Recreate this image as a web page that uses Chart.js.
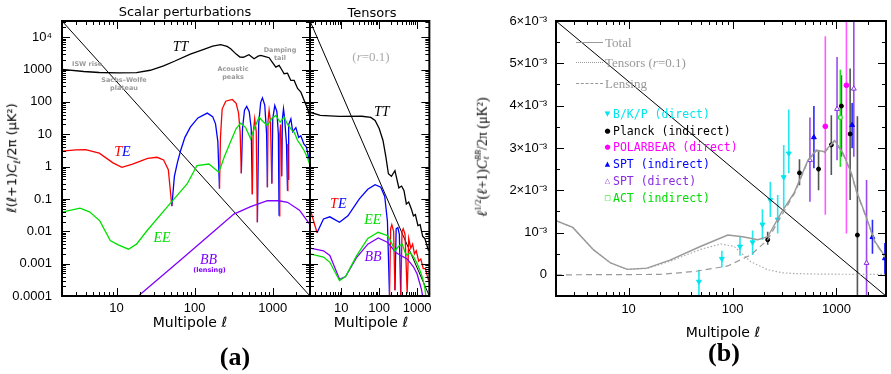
<!DOCTYPE html>
<html>
<head>
<meta charset="utf-8">
<script src="https://cdn.jsdelivr.net/npm/chart.js@4.4.1/dist/chart.umd.min.js"></script>
<style>
  body { margin: 0; background: #fff; width: 891px; height: 374px; position: relative; overflow: hidden; font-family: "DejaVu Sans", sans-serif; }
  canvas { position: absolute; top: 0; }
  .c { position: absolute; transform: translate(-50%, -50%); white-space: nowrap; line-height: 1; z-index: 2; }
  .l { position: absolute; transform: translateY(-50%); white-space: nowrap; line-height: 1; z-index: 2; }
  .rot { transform: translate(-50%, -50%) rotate(-90deg); }
  .note { font: bold 6.5px "DejaVu Sans", sans-serif; color: #9a9a9a; text-align: center; }
  .lab { font: italic 14px "Liberation Serif", serif; }
  .xt { font: 14px "DejaVu Sans", sans-serif; }
  .leg { font: 11.5px "DejaVu Sans Mono", monospace; }
  .gl { font: 13px "Liberation Serif", serif; color: #999; }
  .sw { position: absolute; width: 27px; height: 0; z-index: 2; }
  .mk { position: absolute; transform: translate(-50%, -50%); font-size: 7px; line-height: 1; z-index: 2; }
</style>
</head>
<body>
<canvas id="scalarChart" width="312" height="340" style="left:0"></canvas>
<canvas id="tensorChart" width="137" height="340" style="left:300px"></canvas>
<canvas id="bbChart" width="401" height="340" style="left:490px"></canvas>

<!-- titles and axis labels -->
<div class="c" style="left:185px;top:11px;font-size:13px">Scalar perturbations</div>
<div class="c" style="left:372px;top:11.5px;font-size:13px">Tensors</div>
<div class="c rot" style="left:13px;top:158px;font:13px 'DejaVu Sans'"><i>ℓ</i>(<i>ℓ</i>+1)<i>C</i><sub style="font-size:9px"><i>ℓ</i></sub>/2π (μK²)</div>
<div class="c rot" style="left:482px;top:157px;font:14px 'Liberation Serif'"><i>ℓ</i><sup style="font-size:9px">1/2</sup>(<i>ℓ</i>+1)<i>C</i><span style="display:inline-block;vertical-align:middle;font-size:8px;line-height:1"><i>BB</i><br><i>ℓ</i></span>/2π (μK²)</div>
<div class="c xt" style="left:190px;top:322px">Multipole <i>ℓ</i></div>
<div class="c xt" style="left:371px;top:322px">Multipole <i>ℓ</i></div>
<div class="c xt" style="left:723px;top:332px">Multipole <i>ℓ</i></div>
<div class="c" style="left:235px;top:357px;font:bold 26px 'Liberation Serif'">(a)</div>
<div class="c" style="left:724px;top:353px;font:bold 26px 'Liberation Serif'">(b)</div>

<!-- annotations, scalar panel -->
<div class="c lab" style="left:180.5px;top:47px">TT</div>
<div class="l note" style="left:72px;top:64px">ISW rise</div>
<div class="c note" style="left:124px;top:84px">Sachs–Wolfe<br>plateau</div>
<div class="c note" style="left:233px;top:73px">Acoustic<br>peaks</div>
<div class="c note" style="left:280px;top:54px">Damping<br>tail</div>
<div class="c lab" style="left:122.5px;top:152px"><span style="color:#f00">T</span><span style="color:#00f">E</span></div>
<div class="c lab" style="left:162px;top:238px;color:#00dd00">EE</div>
<div class="c lab" style="left:208.5px;top:260px;color:#8000ff">BB</div>
<div class="c note" style="left:209.5px;top:270px;color:#8000ff">(lensing)</div>

<!-- annotations, tensor panel -->
<div class="c" style="left:371px;top:57px;font:13px 'Liberation Serif';color:#aaa">(<i>r</i>=0.1)</div>
<div class="c lab" style="left:381.7px;top:112px">TT</div>
<div class="c lab" style="left:338.3px;top:204px"><span style="color:#f00">T</span><span style="color:#00f">E</span></div>
<div class="c lab" style="left:372.8px;top:220px;color:#00dd00">EE</div>
<div class="c lab" style="left:373px;top:257px;color:#8000ff">BB</div>

<!-- legend, panel (b) -->
<div class="sw" style="left:576px;top:42px;border-top:1.5px solid #999"></div>
<div class="sw" style="left:576px;top:62px;border-top:1.5px dotted #999"></div>
<div class="sw" style="left:576px;top:83px;border-top:1.5px dashed #999"></div>
<div class="l gl" style="left:605px;top:42.5px">Total</div>
<div class="l gl" style="left:605px;top:63px">Tensors (<i>r</i>=0.1)</div>
<div class="l gl" style="left:605px;top:83.5px">Lensing</div>
<div class="mk" style="left:607.5px;top:114px;color:#00e5ee">▼</div>
<div class="mk" style="left:607.5px;top:130.7px;color:#000">●</div>
<div class="mk" style="left:607.5px;top:147.3px;color:#ff00ff">●</div>
<div class="mk" style="left:607.5px;top:164px;color:#0000ff">▲</div>
<div class="mk" style="left:607.5px;top:181px;color:#8a2be2">△</div>
<div class="mk" style="left:607.5px;top:198px;color:#00dd00">□</div>
<div class="l leg" style="left:613px;top:114px;color:#00e5ee">B/K/P (direct)</div>
<div class="l leg" style="left:613px;top:130.7px;color:#000">Planck (indirect)</div>
<div class="l leg" style="left:613px;top:147.3px;color:#ff00ff">POLARBEAR (direct)</div>
<div class="l leg" style="left:613px;top:164.3px;color:#0000ff">SPT (indirect)</div>
<div class="l leg" style="left:613px;top:181.3px;color:#8a2be2">SPT (direct)</div>
<div class="l leg" style="left:613px;top:198.3px;color:#00dd00">ACT (indirect)</div>

<script>
// ---- panel (a), scalar perturbations: [ℓ, ℓ(ℓ+1)Cℓ/2π in μK²] ----
const scalarTT = [[2,1007],[3.8,870],[6,810],[10.6,790],[18,800],[27,950],[40,1300],[55,1800],[88,3000],[131,4200],[170,5300],[215,5860],[260,5200],[289,4400],[340,3000],[380,2420],[420,2400],[496,2870],[576,2160],[650,2600],[702,2730],[800,2500],[898,2320],[1000,1600],[1095,1186],[1206,1340],[1300,1000],[1398,741],[1545,774],[1620,600],[1705,460],[1880,460],[2080,260],[2292,200],[2529,110],[2793,61],[3000,34]];
// TE > 0 (red) and TE < 0 (blue, |TE|); null = sign change elsewhere
const scalarTEpos = [[2,3.0],[3,3.3],[4,3.35],[6,2.6],[9,1.3],[11.7,0.95],[16,1.2],[25,1.8],[33,1.94],[40,1.6],[46,0.8],[51,0.06], null,
  [208,0.21],[214,8],[225,60],[250,105],[303,119],[340,90],[365,45],[382,12],[396,0.62], null,
  [548,0.14],[560,10],[587,30],[615,12],[636,0.019], null,
  [855,0.23],[870,25],[898,55],[935,25],[973,0.3], null,
  [1206,0.03],[1230,10],[1260,20],[1280,8],[1300,0.5], null,
  [1545,0.18],[1560,5],[1575,0.4]];
const scalarTEneg = [[51,0.06],[55,0.5],[60,1.3],[66,3.1],[75,8],[88,16.5],[110,32],[145,45],[170,35],[185,21],[198,6],[208,0.21], null,
  [396,0.62],[410,15],[435,55],[464,72],[500,50],[530,15],[548,0.14], null,
  [636,0.019],[660,20],[700,95],[738,133],[790,80],[835,10],[855,0.23], null,
  [973,0.3],[1000,30],[1062,77],[1130,50],[1180,10],[1206,0.03], null,
  [1300,0.5],[1330,30],[1374,61],[1420,30],[1500,5],[1545,0.18], null,
  [1575,0.4],[1600,20],[1706,30],[1800,12],[1977,16],[2150,8],[2290,9],[2500,5],[2700,4],[3000,1.2]];
const scalarEE = [[2,0.039],[3.4,0.052],[4.5,0.04],[6.1,0.021],[8.3,0.0052],[10.5,0.0038],[14.2,0.0028],[18,0.004],[24.5,0.0104],[44,0.055],[80,0.29],[107,1.07],[152,1.2],[204,0.67],[240,2],[289,6],[340,15],[388,22],[450,16],[521,7.2],[580,15],[667,33.6],[760,24],[855,18.6],[960,30],[1095,38],[1243,23.5],[1398,33.6],[1550,20],[1706,14.7],[1900,11],[2080,6.4],[2300,4.5],[2530,3.1],[2800,1.8],[3000,1.07]];
const scalarBB = [[19,1e-4],[66,0.0013],[150,0.0072],[318,0.034],[521,0.058],[855,0.089],[1200,0.088],[1545,0.079],[2200,0.045],[3000,0.016]];

// ---- panel (a), tensors (r = 0.1) ----
const tensorTT = [[1.5,48],[2.8,38],[9,35.5],[35,36],[60,33],[78,26.5],[100,15],[126,6.4],[150,2],[175,0.6],[210,0.5],[260,0.75],[330,0.22],[390,0.25],[451,0.18],[520,0.07],[600,0.08],[700,0.05],[800,0.03],[900,0.033],[1050,0.015],[1200,0.016],[1400,0.007],[1600,0.006],[2000,0.0025]];
const tensorTEpos = [[1.5,0.05],[2.3,0.009], null,
  [187,1e-4],[200,0.012],[215,0.016],[240,0.01],[260,1.5e-4], null,
  [370,1e-4],[400,0.01],[430,0.012],[480,0.008],[547,1.2e-4],[600,0.006],[680,0.003],[760,0.004],[850,0.002],[950,0.0025],[1100,0.0012],[1250,0.0014],[1450,0.0007],[1650,0.0007],[2000,0.0003]];
const tensorTEneg = [[2.3,0.009],[3.4,0.024],[5,0.028],[9,0.019],[15,0.03],[30,0.1],[50,0.2],[78,0.277],[110,0.23],[140,0.12],[165,0.02],[187,1e-4], null,
  [260,1.5e-4],[280,0.012],[310,0.013],[340,0.008],[370,1e-4]];
const tensorEE = [[1.5,0.002],[3.4,0.0016],[5,0.0011],[9,3e-4],[13,4e-4],[25,0.0017],[50,0.006],[94,0.0093],[169,0.0073],[220,0.004],[260,0.0025],[330,0.0035],[408,0.004],[480,0.0022],[547,0.0018],[650,0.0022],[811,0.0016],[1000,0.001],[1195,6e-4],[1400,3.5e-4],[1600,1.8e-4],[1800,5e-5]];
const tensorBB = [[1.5,0.003],[3.4,0.0025],[5,0.0018],[9,3.3e-4],[13,4e-4],[25,0.0015],[50,0.004],[94,0.0062],[169,0.0045],[275,0.0022],[400,0.0017],[547,0.0014],[800,8e-4],[1000,4.8e-4],[1300,1.6e-4],[1500,6e-5]];

// ---- panel (b): ℓ^1/2(ℓ+1)C_ℓ^BB/2π in units of 1e-3 μK² ----
const bbTotal = [[2,1.28],[2.9,1.12],[4.6,0.59],[6.7,0.28],[9.7,0.13],[15,0.16],[25,0.35],[49,0.67],[90,0.94],[125,0.9],[175,0.83],[218,0.9],[293,1.46],[394,1.95],[532,2.71],[640,2.95],[769,2.91],[961,3.18],[1160,2.87],[1394,2.4],[1550,2.0],[1875,1.46],[2345,0.79],[3000,0.4]];
const bbTensor = [[2,1.28],[2.9,1.12],[4.6,0.59],[6.7,0.28],[9.7,0.13],[15,0.15],[25,0.32],[49,0.6],[77,0.73],[104,0.67],[150,0.31],[218,0.12],[300,0.05],[400,0.03],[600,0.02],[1000,0.015],[3000,0.01]];
const bbLensing = [[2,0],[20,0.01],[43,0.08],[90,0.21],[150,0.47],[218,0.83],[293,1.38],[394,1.92],[532,2.69],[640,2.93],[769,2.89],[961,3.16],[1160,2.85],[1394,2.38],[1550,1.98],[1875,1.44],[2345,0.77],[3000,0.39]];
// band powers: [ℓ, value, low, high]
const bkp = [[47.5,-0.16,-0.6,0.12],[79,0.38,0.18,0.57],[118,0.67,0.45,0.9],[156,0.77,0.47,1.05],[194,1.19,0.83,1.55],[231,1.77,1.37,2.2],[272,1.31,0.98,1.89],[311,2.31,1.58,3.07],[348,2.87,2.4,3.91]];
const planck = [[218,0.83,0.71,1.02],[441,2.41,2.12,2.73],[673,2.5,2.0,2.95],[893,3.07,2.36,3.77],[1117,3.99,2.79,4.72],[1355,3.33,1.77,4.88],[1592,0.94,-0.6,3.75]];
const polarbear = [[782,3.51,1.42,5.64],[1248,4.48,0.98,6.5]];
const sptIndirect = [[607,3.25,2.52,3.99],[1416,3.54,2.99,4.06],[2222,0.89,0.5,1.3],[2925,0.39,0,0.75]];
const sptDirect = [[556,2.71,1.73,3.72],[1014,3.92,2.71,5.15],[1470,4.4,2.79,6.5],[1950,0.28,-0.6,2.24]];
const act = [[1091,3.72,2.55,4.85]];

// axis ranges and the corner-to-corner guide lines
const scalarX = [2, 3000], tensorX = [1.5, 2100], powerY = [1e-4, 31623];
const bbX = [2, 3000], bbY = [-0.5, 6];
const xLabels = [10, 100, 1000];
const powerLabels = {4: '10⁴', 3: '1000', 2: '100', 1: '10', 0: '1', '-1': '0.1', '-2': '0.01', '-3': '0.001', '-4': '0.0001'};

Chart.defaults.font.family = '"Liberation Sans", sans-serif';
Chart.defaults.font.size = 13;
Chart.defaults.color = '#000';

function toPoints(arr) {
    return arr.map((p, i) => p ? { x: p[0], y: p[1] } : { x: arr[i - 1][0], y: null });
}

function logMajor(min, max) {
    const out = [];
    for (let e = Math.floor(Math.log10(min)); e <= Math.ceil(Math.log10(max)); e++) {
        const v = Math.pow(10, e);
        if (v >= min && v <= max) out.push(v);
    }
    return out;
}

function logMinor(min, max) {
    const out = [];
    for (let e = Math.floor(Math.log10(min)); e <= Math.ceil(Math.log10(max)); e++) {
        for (let k = 2; k <= 9; k++) {
            const v = k * Math.pow(10, e);
            if (v > min && v < max) out.push(v);
        }
    }
    return out;
}

function line(data, color, extra) {
    return Object.assign({
        type: 'line', data: toPoints(data), borderColor: color, borderWidth: 1.3,
        pointRadius: 0, fill: false, tension: 0, spanGaps: false
    }, extra || {});
}

// inward ticks on all four sides plus the box
const frameTicks = {
    id: 'frameTicks',
    afterDatasetsDraw(chart, args, o) {
        const { ctx, chartArea: a, scales: { x, y } } = chart;
        ctx.save();
        ctx.strokeStyle = '#000';
        ctx.lineWidth = 1;
        ctx.beginPath();
        const vt = (v, len) => {
            const p = Math.round(x.getPixelForValue(v)) + 0.5;
            ctx.moveTo(p, a.bottom); ctx.lineTo(p, a.bottom - len);
            ctx.moveTo(p, a.top); ctx.lineTo(p, a.top + len);
        };
        const ht = (v, len) => {
            const p = Math.round(y.getPixelForValue(v)) + 0.5;
            ctx.moveTo(a.left, p); ctx.lineTo(a.left + len, p);
            ctx.moveTo(a.right, p); ctx.lineTo(a.right - len, p);
        };
        o.xMajor.forEach(v => vt(v, 8));
        o.xMinor.forEach(v => vt(v, 4));
        o.yMajor.forEach(v => ht(v, 8));
        o.yMinor.forEach(v => ht(v, 4));
        ctx.stroke();
        ctx.lineWidth = 2;
        ctx.strokeRect(a.left, a.top, a.right - a.left, a.bottom - a.top);
        ctx.restore();
    }
};

// vertical error bars for the band powers, drawn under the markers
const errorBars = {
    id: 'errorBars',
    beforeDatasetsDraw(chart, args, o) {
        const { ctx, chartArea: a, scales: { x, y } } = chart;
        ctx.save();
        ctx.beginPath();
        ctx.rect(a.left, a.top, a.right - a.left, a.bottom - a.top);
        ctx.clip();
        ctx.lineWidth = 1.6;
        o.sets.forEach(s => {
            ctx.strokeStyle = s.color;
            ctx.beginPath();
            s.data.forEach(p => {
                const px = x.getPixelForValue(p[0]);
                ctx.moveTo(px, y.getPixelForValue(p[2]));
                ctx.lineTo(px, y.getPixelForValue(p[3]));
            });
            ctx.stroke();
        });
        ctx.restore();
    }
};

function logXAxis(range) {
    return {
        type: 'logarithmic', min: range[0], max: range[1],
        grid: { display: false, drawTicks: false }, border: { display: false },
        ticks: { autoSkip: false, maxRotation: 0, padding: 5, callback: v => String(v) },
        afterBuildTicks: s => { s.ticks = xLabels.map(v => ({ value: v })); },
        afterFit: s => { s.height = 44; }
    };
}

function powerYAxis(show) {
    return {
        type: 'logarithmic', min: powerY[0], max: powerY[1], display: show,
        grid: { display: false, drawTicks: false }, border: { display: false },
        ticks: { autoSkip: false, padding: 10, callback: v => powerLabels[Math.round(Math.log10(v))] },
        afterBuildTicks: s => { s.ticks = logMajor(powerY[0], powerY[1]).map(v => ({ value: v })); },
        afterFit: s => { s.width = show ? 62 : 0; }
    };
}

const scalarChart = new Chart(document.getElementById('scalarChart'), {
    type: 'line',
    data: {
        datasets: [
            line(scalarTT, '#000'),
            line(scalarEE, '#00e000'),
            line(scalarBB, '#8000ff'),
            line(scalarTEpos, '#ff0000'),
            line(scalarTEneg, '#0000ff'),
            line([[scalarX[0], powerY[1]], [scalarX[1], powerY[0]]], '#000', { borderWidth: 1 })
        ]
    },
    options: {
        responsive: false, animation: false,
        layout: { padding: { top: 21, right: 2, left: 0, bottom: 0 } },
        plugins: {
            legend: { display: false }, tooltip: { enabled: false },
            frameTicks: {
                xMajor: logMajor(scalarX[0], scalarX[1]), xMinor: logMinor(scalarX[0], scalarX[1]),
                yMajor: logMajor(powerY[0], powerY[1]), yMinor: logMinor(powerY[0], powerY[1])
            }
        },
        scales: { x: logXAxis(scalarX), y: powerYAxis(true) }
    },
    plugins: [frameTicks]
});

const tensorChart = new Chart(document.getElementById('tensorChart'), {
    type: 'line',
    data: {
        datasets: [
            line(tensorTT, '#000'),
            line(tensorEE, '#00e000'),
            line(tensorBB, '#8000ff'),
            line(tensorTEpos, '#ff0000'),
            line(tensorTEneg, '#0000ff'),
            line([[tensorX[0], powerY[1]], [tensorX[1], powerY[0]]], '#000', { borderWidth: 1 })
        ]
    },
    options: {
        responsive: false, animation: false,
        layout: { padding: { top: 21, right: 4, left: 10, bottom: 0 } },
        plugins: {
            legend: { display: false }, tooltip: { enabled: false },
            frameTicks: {
                xMajor: logMajor(tensorX[0], tensorX[1]), xMinor: logMinor(tensorX[0], tensorX[1]),
                yMajor: logMajor(powerY[0], powerY[1]), yMinor: logMinor(powerY[0], powerY[1])
            }
        },
        scales: { x: logXAxis(tensorX), y: powerYAxis(false) }
    },
    plugins: [frameTicks]
});

function markers(data, style, color, fill, extra) {
    return Object.assign({
        type: 'scatter', data: data.map(p => ({ x: p[0], y: p[1] })),
        pointStyle: style, pointRadius: 2.8, borderWidth: 1,
        borderColor: color, backgroundColor: fill, showLine: false
    }, extra || {});
}

const bbMajor = [0, 1, 2, 3, 4, 5, 6];
const bbMinor = [-0.5, 0.5, 1.5, 2.5, 3.5, 4.5, 5.5];

const bbChart = new Chart(document.getElementById('bbChart'), {
    type: 'line',
    data: {
        datasets: [
            line(bbTotal, '#999', { borderWidth: 1.4 }),
            line(bbTensor, '#aaa', { borderWidth: 1.2, borderDash: [1.5, 2] }),
            line(bbLensing, '#999', { borderWidth: 1.2, borderDash: [6, 4] }),
            line([[bbX[0], bbY[1]], [bbX[1], bbY[0]]], '#000', { borderWidth: 1 }),
            markers(bkp, 'triangle', '#00e5ee', '#00e5ee', { rotation: 180 }),
            markers(planck, 'circle', '#000', '#000', { pointRadius: 2 }),
            markers(polarbear, 'circle', '#ff00ff', '#ff00ff', { pointRadius: 2.4 }),
            markers(sptIndirect, 'triangle', '#0000ff', '#0000ff'),
            markers(sptDirect, 'triangle', '#8a2be2', '#fff'),
            markers(act, 'rect', '#00dd00', '#fff', { pointRadius: 2.4 })
        ]
    },
    options: {
        responsive: false, animation: false,
        layout: { padding: { top: 21, right: 1, left: 0, bottom: 0 } },
        plugins: {
            legend: { display: false }, tooltip: { enabled: false },
            frameTicks: { xMajor: logMajor(bbX[0], bbX[1]), xMinor: logMinor(bbX[0], bbX[1]), yMajor: bbMajor, yMinor: bbMinor },
            errorBars: {
                sets: [
                    { data: bkp, color: '#22e8f0' },
                    { data: planck, color: '#555' },
                    { data: polarbear, color: '#ff5cff' },
                    { data: sptIndirect, color: '#2a2aff' },
                    { data: sptDirect, color: '#9a4cf0' },
                    { data: act, color: '#22dd22' }
                ]
            }
        },
        scales: {
            x: Object.assign(logXAxis(bbX), { ticks: { autoSkip: false, maxRotation: 0, padding: 6, callback: v => String(v) } }),
            y: {
                type: 'linear', min: bbY[0], max: bbY[1],
                grid: { display: false, drawTicks: false }, border: { display: false },
                ticks: {
                    autoSkip: false, padding: 9,
                    callback: v => v === 0 ? '0' : (v === 1 ? '10⁻³' : v + '×10⁻³')
                },
                afterBuildTicks: s => { s.ticks = bbMajor.map(v => ({ value: v })); },
                afterFit: s => { s.width = 66; }
            }
        }
    },
    plugins: [errorBars, frameTicks]
});
</script>
</body>
</html>
